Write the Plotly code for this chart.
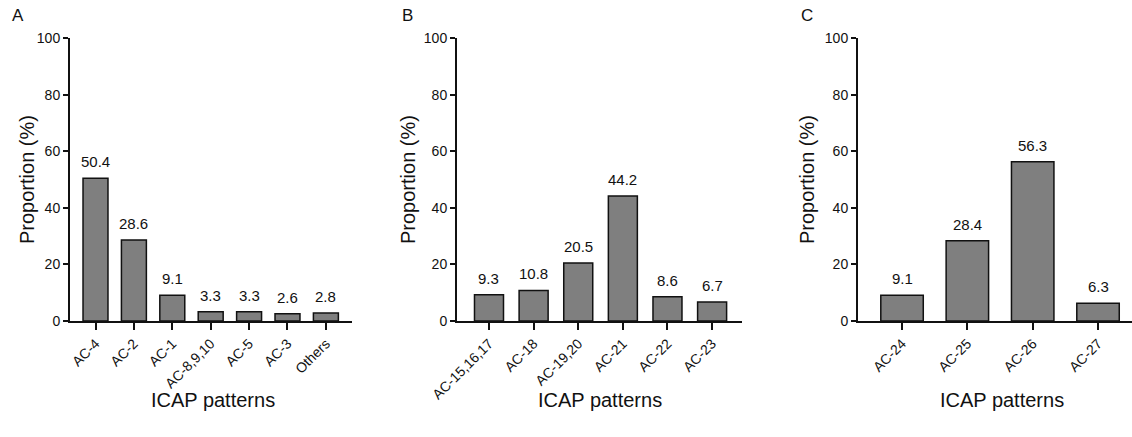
import plotly.graph_objects as go

W, H = 1132, 437

cats_a = ["AC-4", "AC-2", "AC-1", "AC-8,9,10", "AC-5", "AC-3", "Others"]
vals_a = [50.4, 28.6, 9.1, 3.3, 3.3, 2.6, 2.8]

cats_b = ["AC-15,16,17", "AC-18", "AC-19,20", "AC-21", "AC-22", "AC-23"]
vals_b = [9.3, 10.8, 20.5, 44.2, 8.6, 6.7]

cats_c = ["AC-24", "AC-25", "AC-26", "AC-27"]
vals_c = [9.1, 28.4, 56.3, 6.3]

y_ticks = [0, 20, 40, 60, 80, 100]
panel_letters = ["A", "B", "C"]
y_title = "Proportion (%)"
x_title = "ICAP patterns"

FONT = "Liberation Sans, Arial, sans-serif"
BAR = "#7f7f7f"
INK = "#111"

# pixel layout per panel: (axis left px, axis right px, x-range, y-title x px, x-title x px, letter x px)
panels = [
    (cats_a, vals_a, 70, 352, [-0.664, 6.68], 27, 213, 18),
    (cats_b, vals_b, 457, 742, [-0.717, 5.67], 408, 600, 407),
    (cats_c, vals_c, 858, 1132, [-0.674, 3.52], 807, 1002, 807),
]
y0_px, y100_px = 321, 38
ydom = [1 - y0_px / H, 1 - y100_px / H]

fig = go.Figure()
annotations = []
for i, (cats, vals, xl, xr, xrange, ytx, xtx, lx) in enumerate(panels):
    n = "" if i == 0 else str(i + 1)
    fig.add_trace(go.Bar(
        x=cats, y=vals, xaxis="x" + n, yaxis="y" + n,
        marker=dict(color=BAR, line=dict(color=INK, width=1.5)),
        width=0.65, cliponaxis=False, showlegend=False,
    ))
    for c, v in zip(cats, vals):
        annotations.append(dict(x=c, y=v, xref="x" + n, yref="y" + n,
                                text=f"{v:.1f}", showarrow=False,
                                xanchor="center", yanchor="bottom", yshift=6,
                                font=dict(family=FONT, size=15, color=INK)))
    fig.update_layout(**{
        "xaxis" + n: dict(
            domain=[xl / W, min(xr / W, 1.0)], range=xrange, type="category",
            anchor="y" + n, showline=True, linecolor=INK, linewidth=2,
            ticks="outside", ticklen=7, tickwidth=1.5, tickcolor=INK,
            tickangle=-45, showgrid=False, zeroline=False, automargin=False,
            tickfont=dict(family=FONT, size=14, color=INK),
        ),
        "yaxis" + n: dict(
            domain=ydom, range=[0, 100], anchor="x" + n,
            tickvals=y_ticks, showline=True, linecolor=INK, linewidth=2,
            ticks="outside", ticklen=5, tickwidth=1.5, tickcolor=INK,
            showgrid=False, zeroline=False, automargin=False,
            tickfont=dict(family=FONT, size=14, color=INK),
        ),
    })
    annotations.append(dict(x=ytx / W, y=1 - 180 / H, xref="paper", yref="paper",
                            text=y_title, textangle=-90, showarrow=False,
                            font=dict(family=FONT, size=20, color=INK),
                            xanchor="center", yanchor="middle"))
    annotations.append(dict(x=xtx / W, y=1 - 400 / H, xref="paper", yref="paper",
                            text=x_title, showarrow=False,
                            font=dict(family=FONT, size=20, color=INK),
                            xanchor="center", yanchor="middle"))
    annotations.append(dict(x=lx / W, y=1 - 15 / H, xref="paper", yref="paper",
                            text=panel_letters[i], showarrow=False,
                            font=dict(family=FONT, size=17, color=INK),
                            xanchor="center", yanchor="middle"))

fig.update_layout(
    width=W, height=H, margin=dict(l=0, r=0, t=0, b=0),
    paper_bgcolor="white", plot_bgcolor="white",
    annotations=annotations,
)
fig.write_html("out.html", config={"displayModeBar": False},
               post_script="document.body.style.margin='0';document.body.style.overflow='hidden';")
